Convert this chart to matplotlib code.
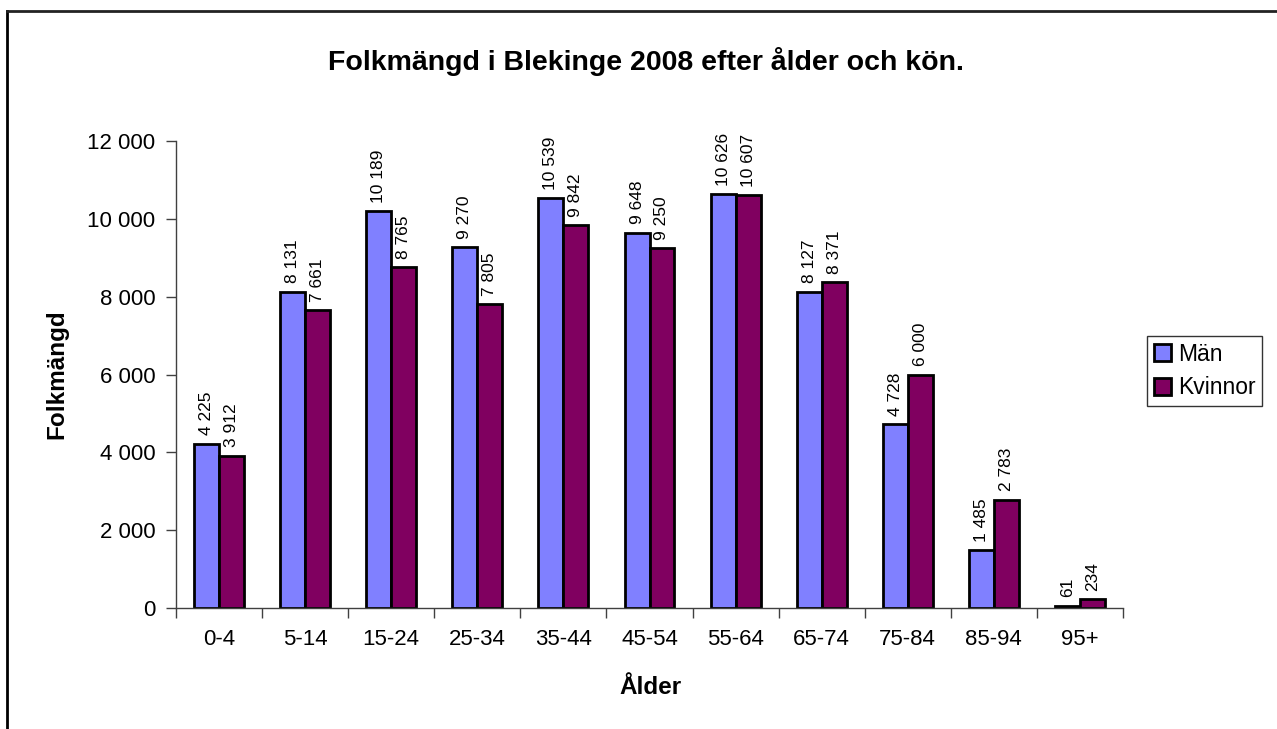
import matplotlib
matplotlib.use("Agg")
import matplotlib.pyplot as plt
from matplotlib.lines import Line2D
import numpy as np

plt.rcParams['font.family'] = ['Liberation Sans', 'DejaVu Sans']

categories = ["0-4", "5-14", "15-24", "25-34", "35-44", "45-54", "55-64", "65-74", "75-84", "85-94", "95+"]
man = [4225, 8131, 10189, 9270, 10539, 9648, 10626, 8127, 4728, 1485, 61]
kvinnor = [3912, 7661, 8765, 7805, 9842, 9250, 10607, 8371, 6000, 2783, 234]
yticks = [0, 2000, 4000, 6000, 8000, 10000, 12000]

def fmt(v):
    return f"{v:,}".replace(",", " ")

fig = plt.figure(figsize=(12.77, 7.29), dpi=100)
W, H = 1277, 729
ax = fig.add_axes([176 / W, 1 - 608 / H, (1123 - 176) / W, (608 - 141) / H])

x = np.arange(len(categories))
bw = 0.29
b1 = ax.bar(x - bw / 2, man, width=bw, color="#8080FF", edgecolor="black", linewidth=2, label="Män")
b2 = ax.bar(x + bw / 2, kvinnor, width=bw, color="#800060", edgecolor="black", linewidth=2, label="Kvinnor")

for bars, vals in ((b1, man), (b2, kvinnor)):
    for r, v in zip(bars, vals):
        ax.annotate(fmt(v), (r.get_x() + r.get_width() / 2, r.get_height()),
                    xytext=(0, 6), textcoords="offset points", rotation=90,
                    ha="center", va="bottom", fontsize=12.5)

ax.set_xlim(-0.5, len(categories) - 0.5)
ax.set_ylim(0, 12000)
ax.set_yticks(yticks)
ax.set_yticklabels([fmt(v) for v in yticks], fontsize=16)
ax.set_xticks(x)
ax.set_xticklabels(categories, fontsize=16)
ax.set_xticks(np.arange(len(categories) + 1) - 0.5, minor=True)
ax.tick_params(axis="x", which="major", length=0, pad=15)
ax.tick_params(axis="x", which="minor", length=7, width=1, color="#404040")
ax.tick_params(axis="y", length=7, width=1, color="#404040", pad=8)
for s in ("top", "right"):
    ax.spines[s].set_visible(False)
for s in ("left", "bottom"):
    ax.spines[s].set_color("#404040")
    ax.spines[s].set_linewidth(1)

fig.text(57 / W, 1 - 374 / H, "Folkmängd", rotation=90, ha="center", va="center",
         fontsize=17.5, fontweight="bold")
fig.text(650 / W, 1 - 688 / H, "Ålder", ha="center", va="center",
         fontsize=17.5, fontweight="bold")

fig.text(646 / W, 1 - 62 / H, "Folkmängd i Blekinge 2008 efter ålder och kön.",
         ha="center", va="center", fontsize=20.5, fontweight="bold")

leg = fig.legend(handles=[b1, b2], loc="upper left", bbox_to_anchor=(1147 / W, 1 - 336 / H),
                 fontsize=16.5, frameon=True, fancybox=False, edgecolor="black",
                 handlelength=0.75, handleheight=0.75, handletextpad=0.3,
                 borderpad=0.3, labelspacing=0.45, borderaxespad=0)
leg.get_frame().set_linewidth(1)

fig.add_artist(Line2D([6.5 / W, 6.5 / W], [0, 1 - 10.5 / H], transform=fig.transFigure, color="black", linewidth=2))
fig.add_artist(Line2D([6.5 / W, 1], [1 - 10.5 / H, 1 - 10.5 / H], transform=fig.transFigure, color="#222222", linewidth=2))

fig.savefig("out.png", dpi=100, facecolor="white")
